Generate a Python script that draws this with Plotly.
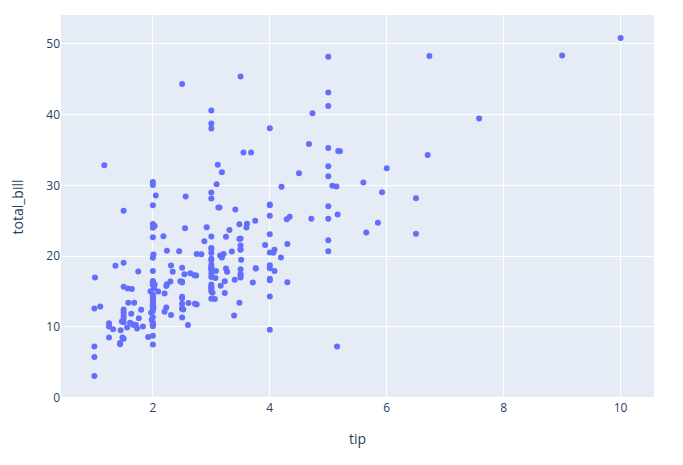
import plotly.graph_objects as go

# tips dataset: total bill and tip per party
total_bill = [
    16.99, 10.34, 21.01, 23.68, 24.59, 25.29, 8.77, 26.88, 15.04, 14.78,
    10.27, 35.26, 15.42, 18.43, 14.83, 21.58, 10.33, 16.29, 16.97, 20.65,
    17.92, 20.29, 15.77, 39.42, 19.82, 17.81, 13.37, 12.69, 21.70, 19.65,
    9.55, 18.35, 15.06, 20.69, 17.78, 24.06, 16.31, 16.93, 18.69, 31.27,
    16.04, 17.46, 13.94, 9.68, 30.40, 18.29, 22.23, 32.40, 28.55, 18.04,
    12.54, 10.29, 34.81, 9.94, 25.56, 19.49, 38.01, 26.41, 11.24, 48.27,
    20.29, 13.81, 11.02, 18.29, 17.59, 20.08, 16.45, 3.07, 20.23, 15.01,
    12.02, 17.07, 26.86, 25.28, 14.73, 10.51, 17.92, 27.20, 22.76, 17.29,
    19.44, 16.66, 10.07, 32.68, 15.98, 34.83, 13.03, 18.28, 24.71, 21.16,
    28.97, 22.49, 5.75, 16.32, 22.75, 40.17, 27.28, 12.03, 21.01, 12.46,
    11.35, 15.38, 44.30, 22.42, 20.92, 15.36, 20.49, 25.21, 18.24, 14.31,
    14.00, 7.25, 38.07, 23.95, 25.71, 17.31, 29.93, 10.65, 12.43, 24.08,
    11.69, 13.42, 14.26, 15.95, 12.48, 29.80, 8.52, 14.52, 11.38, 22.82,
    19.08, 20.27, 11.17, 12.26, 18.26, 8.51, 10.33, 14.15, 16.00, 13.16,
    17.47, 34.30, 41.19, 27.05, 16.43, 8.35, 18.64, 11.87, 9.78, 7.51,
    14.07, 13.13, 17.26, 24.55, 19.77, 29.85, 48.17, 25.00, 13.39, 16.49,
    21.50, 12.66, 16.21, 13.81, 17.51, 24.52, 20.76, 31.71, 10.59, 10.63,
    50.81, 15.81, 7.25, 31.85, 16.82, 32.90, 17.89, 14.48, 9.60, 34.63,
    34.65, 23.33, 45.35, 23.17, 40.55, 20.69, 20.90, 30.46, 18.15, 23.10,
    15.69, 19.81, 28.44, 15.48, 16.58, 7.56, 10.34, 43.11, 13.00, 13.51,
    18.71, 12.74, 13.00, 16.40, 20.53, 16.47, 26.59, 38.73, 24.27, 12.76,
    30.06, 25.89, 48.33, 13.27, 28.17, 12.90, 28.15, 11.59, 7.74, 30.14,
    12.16, 13.42, 8.58, 15.98, 13.42, 16.27, 10.09, 20.45, 13.28, 22.12,
    24.01, 15.69, 11.61, 10.77, 15.53, 10.07, 12.60, 32.83, 35.83, 29.03,
    27.18, 22.67, 17.82, 18.78,
]
tip = [
    1.01, 1.66, 3.50, 3.31, 3.61, 4.71, 2.00, 3.12, 1.96, 3.23,
    1.71, 5.00, 1.57, 3.00, 3.02, 3.92, 1.67, 3.71, 3.50, 3.35,
    4.08, 2.75, 2.23, 7.58, 3.18, 2.34, 2.00, 2.00, 4.30, 3.00,
    1.45, 2.50, 3.00, 2.45, 3.27, 3.60, 2.00, 3.07, 2.31, 5.00,
    2.24, 2.54, 3.06, 1.32, 5.60, 3.00, 5.00, 6.00, 2.05, 3.00,
    2.50, 2.60, 5.20, 1.56, 4.34, 3.51, 3.00, 1.50, 1.76, 6.73,
    3.21, 2.00, 1.98, 3.76, 2.64, 3.15, 2.47, 1.00, 2.01, 2.09,
    1.97, 3.00, 3.14, 5.00, 2.20, 1.25, 3.08, 4.00, 3.00, 2.71,
    3.00, 3.40, 1.83, 5.00, 2.03, 5.17, 2.00, 4.00, 5.85, 3.00,
    3.00, 3.50, 1.00, 4.30, 3.25, 4.73, 4.00, 1.50, 3.00, 1.50,
    2.50, 3.00, 2.50, 3.48, 4.08, 1.64, 4.06, 4.29, 3.76, 4.00,
    3.00, 1.00, 4.00, 2.55, 4.00, 3.50, 5.07, 1.50, 1.80, 2.92,
    2.31, 1.68, 2.50, 2.00, 2.52, 4.20, 1.48, 2.00, 2.00, 2.18,
    1.50, 2.83, 1.50, 2.00, 3.25, 1.25, 2.00, 2.00, 2.00, 2.75,
    3.50, 6.70, 5.00, 5.00, 2.30, 1.50, 1.36, 1.63, 1.73, 2.00,
    2.50, 2.00, 2.74, 2.00, 2.00, 5.14, 5.00, 3.75, 2.61, 2.00,
    3.50, 2.50, 2.00, 2.00, 3.00, 3.48, 2.24, 4.50, 1.61, 2.00,
    10.00, 3.16, 5.15, 3.18, 4.00, 3.11, 2.00, 2.00, 4.00, 3.55,
    3.68, 5.65, 3.50, 6.50, 3.00, 5.00, 3.50, 2.00, 3.50, 4.00,
    1.50, 4.19, 2.56, 2.02, 4.00, 1.44, 2.00, 5.00, 2.00, 2.00,
    4.00, 2.01, 2.00, 2.50, 4.00, 3.23, 3.41, 3.00, 2.03, 2.23,
    2.00, 5.16, 9.00, 2.50, 6.50, 1.10, 3.00, 1.50, 1.44, 3.09,
    2.20, 3.48, 1.92, 3.00, 1.58, 2.50, 2.00, 3.00, 2.72, 2.88,
    2.00, 3.00, 3.39, 1.47, 3.00, 1.25, 1.00, 1.17, 4.67, 5.92,
    2.00, 2.00, 1.75, 3.00,
]

fig = go.Figure(
    go.Scatter(
        x=tip,
        y=total_bill,
        mode="markers",
        marker={"color": "#636efa"},
        showlegend=False,
    )
)

fig.update_layout(
    template="plotly",
    margin={"l": 53, "r": 21, "t": 7, "b": 59},
    xaxis={"title": {"text": "tip", "standoff": 19}, "automargin": False},
    yaxis={"title": {"text": "total_bill", "standoff": 30}, "automargin": False},
)

fig.write_html("out.html")
